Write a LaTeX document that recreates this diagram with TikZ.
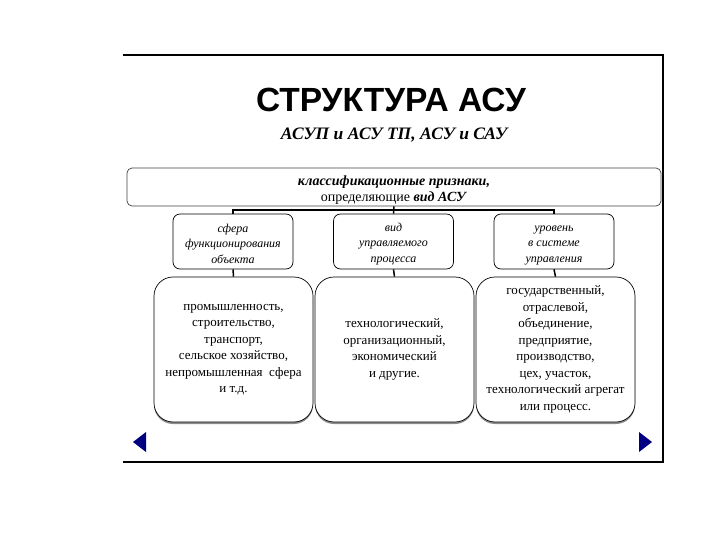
\documentclass[tikz,border=0pt]{standalone}
\usepackage{fontspec}
\setmainfont{Liberation Serif}
\newfontfamily\titlefont{Liberation Sans}
\usetikzlibrary{shadows}
\definecolor{navtri}{HTML}{000080}
\tikzset{
  frame/.style={draw=black, line width=1.3pt},
  topbox/.style={draw=black!75, rounded corners=5pt, line width=0.7pt, minimum width=534pt, minimum height=38pt, inner sep=0pt, align=center, font=\fontsize{14}{16}\selectfont},
  midbox/.style={draw=black, rounded corners=7pt, line width=0.7pt, minimum width=120pt, minimum height=55pt, inner sep=0pt, align=center, font=\fontsize{12}{15.5}\selectfont\itshape},
  lowbox/.style={draw=black, fill=white, rounded corners=19pt, line width=0.7pt, minimum width=159pt, minimum height=145pt, inner sep=0pt, align=center, font=\fontsize{13}{16.5}\selectfont,
    drop shadow={shadow xshift=0pt, shadow yshift=-2pt, fill=black!45, opacity=1}},
  conn/.style={draw=black, line width=1.5pt},
  navbtn/.style={fill=navtri, draw=none}
}
\begin{document}
\begin{tikzpicture}[x=1pt,y=-1pt]
\useasboundingbox (0,0) rectangle (720,540);
% frame
\draw[frame] (123,55) -- (663,55) -- (663,462) -- (123,462);
% title
\node[font=\titlefont\bfseries\fontsize{33.5}{36}\selectfont, anchor=base] (title) at (391,112) {СТРУКТУРА АСУ};
\node[font=\bfseries\itshape\fontsize{17.5}{18}\selectfont, anchor=base] (sub) at (394,140) {АСУП и АСУ ТП, АСУ и САУ};
% top box
\node[topbox] (top) at (394,187) {\rule{0pt}{16pt}\textbf{\textit{классификационные признаки,}}\\ определяющие \textbf{\textit{вид АСУ}}};
% middle boxes
\node[midbox] (m1) at (233,241.5) {\rule{0pt}{13pt}сфера\\функционирования\\объекта};
\node[midbox] (m2) at (393.5,241.5) {\rule{0pt}{13pt}вид\\управляемого\\процесса};
\node[midbox] (m3) at (554,241.5) {\rule{0pt}{13pt}уровень\\в системе\\управления};
% bottom boxes
\node[lowbox] (b1) at (233.5,349.5) {промышленность,\\строительство,\\транспорт,\\сельское хозяйство,\\непромышленная\ \ сфера\\и т.д.};
\node[lowbox] (b2) at (394.5,349.5) {технологический,\\организационный,\\экономический\\и другие.};
\node[lowbox] (b3) at (555.5,349.5) {государственный,\\отраслевой,\\объединение,\\предприятие,\\производство,\\цех, участок,\\технологический агрегат\\или процесс.};
% connectors
\coordinate (bus) at (393.5,210);
\draw[conn] (top.south) -- (m2.north);
\draw[conn] (m1.north) -- (m1.north |- bus) -- (m3.north |- bus) -- (m3.north);
\draw[conn] (m1.south) -- (b1.north);
\draw[conn] (m2.south) -- (b2.north);
\draw[conn] (m3.south) -- (b3.north);
% navigation buttons
\fill[navbtn] (133,442) -- (146,432) -- (146,452) -- cycle;
\fill[navbtn] (652,442) -- (639,432) -- (639,452) -- cycle;
\end{tikzpicture}
\end{document}
